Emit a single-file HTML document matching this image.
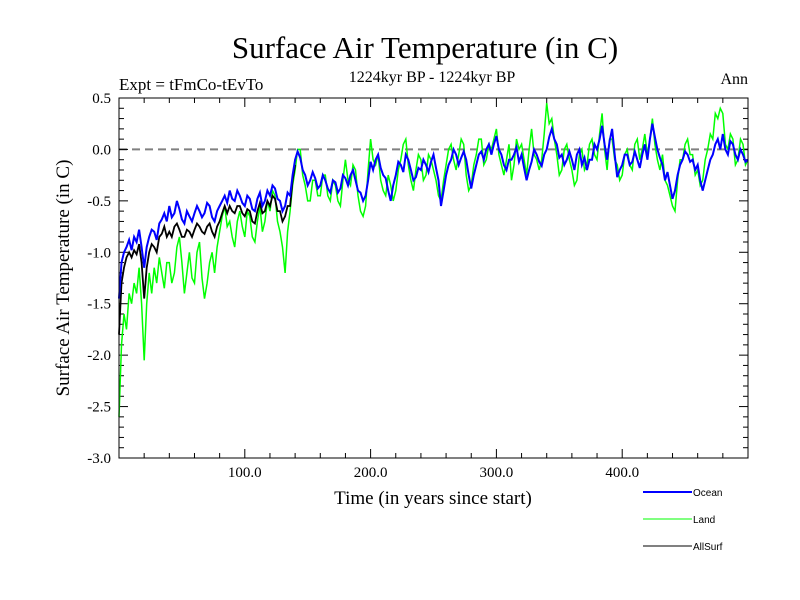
<!DOCTYPE html>
<html><head><meta charset="utf-8"><style>
html,body{margin:0;padding:0;background:#fff;}
svg{display:block;font-family:"Liberation Serif",serif;}
.lg{font-family:"Liberation Sans",sans-serif;font-size:10px;}
</style></head><body>
<svg id="chart" width="800" height="600" viewBox="0 0 800 600">
<text x="425" y="58" font-size="31" text-anchor="middle">Surface Air Temperature (in C)</text>
<text x="119" y="90" font-size="17">Expt = tFmCo-tEvTo</text>
<text x="432" y="82" font-size="16" text-anchor="middle">1224kyr BP - 1224kyr BP</text>
<text x="748" y="84" font-size="16" text-anchor="end">Ann</text>
<text x="433" y="504" font-size="19" text-anchor="middle">Time (in years since start)</text>
<text transform="translate(69,278) rotate(-90)" font-size="19" text-anchor="middle">Surface Air Temperature (in C)</text>
<g id="axes"></g>
<g id="series"></g>
<rect x="119" y="98" width="629" height="360" fill="none" stroke="#000" stroke-width="1"/>
<g>
<line x1="643" y1="492" x2="692" y2="492" stroke="#0000ff" stroke-width="2"/>
<text class="lg" x="693" y="496">Ocean</text>
<line x1="643" y1="519" x2="692" y2="519" stroke="#00ff00" stroke-width="1"/>
<text class="lg" x="693" y="523">Land</text>
<line x1="643" y1="546" x2="692" y2="546" stroke="#000" stroke-width="1"/>
<text class="lg" x="693" y="550">AllSurf</text>
</g>
</svg>
<script>
const years = [];
for (let i = 0; i <= 250; i++) years.push(i * 2);
const ocean = [-1.45,-1.1,-1.0,-0.95,-0.88,-0.98,-0.85,-0.9,-0.78,-0.95,-1.15,-0.95,-0.85,-0.78,-0.8,-0.88,-0.72,-0.68,-0.62,-0.7,
-0.55,-0.66,-0.62,-0.5,-0.58,-0.68,-0.72,-0.6,-0.65,-0.7,-0.62,-0.55,-0.6,-0.66,-0.62,-0.52,-0.55,-0.66,-0.7,-0.6,
-0.55,-0.5,-0.45,-0.52,-0.4,-0.48,-0.5,-0.4,-0.45,-0.52,-0.55,-0.45,-0.48,-0.58,-0.6,-0.48,-0.42,-0.55,-0.5,-0.4,
-0.45,-0.35,-0.38,-0.48,-0.5,-0.6,-0.55,-0.42,-0.45,-0.25,-0.1,-0.02,-0.08,-0.2,-0.25,-0.35,-0.3,-0.22,-0.28,-0.38,
-0.35,-0.25,-0.3,-0.38,-0.42,-0.3,-0.32,-0.42,-0.38,-0.25,-0.28,-0.35,-0.25,-0.2,-0.3,-0.4,-0.42,-0.5,-0.45,-0.3,
-0.12,-0.2,-0.1,-0.05,-0.18,-0.25,-0.28,-0.4,-0.5,-0.35,-0.25,-0.12,-0.15,-0.22,-0.05,-0.1,-0.2,-0.3,-0.27,-0.18,
-0.2,-0.1,-0.15,-0.22,-0.12,-0.05,-0.18,-0.3,-0.55,-0.4,-0.25,-0.15,-0.1,0.0,-0.05,-0.15,-0.08,-0.02,-0.1,-0.25,
-0.38,-0.25,-0.15,-0.05,-0.02,-0.1,0.0,0.05,-0.05,0.05,0.13,0.0,-0.05,-0.15,-0.2,-0.1,-0.1,-0.05,0.02,-0.12,
-0.05,-0.18,-0.3,-0.2,-0.12,0.0,-0.05,-0.12,-0.16,-0.05,0.0,0.12,0.2,0.1,0.05,-0.08,-0.05,-0.15,-0.1,-0.02,
-0.1,-0.2,-0.05,0.0,-0.15,-0.08,-0.2,-0.1,-0.1,0.05,0.0,0.1,0.23,0.05,-0.1,0.08,0.2,-0.05,-0.27,-0.2,
-0.15,-0.05,-0.05,-0.15,-0.12,-0.02,-0.1,-0.18,-0.05,0.05,-0.1,0.1,0.25,0.12,0.0,-0.08,-0.15,-0.3,-0.22,-0.35,
-0.48,-0.4,-0.25,-0.15,-0.1,-0.02,-0.05,-0.12,-0.1,-0.2,-0.15,-0.3,-0.4,-0.3,-0.2,-0.1,-0.05,0.05,0.1,0.0,
0.15,0.0,-0.05,0.08,0.05,-0.05,-0.1,0.0,-0.05,-0.12,-0.1];
const land = [-2.6,-1.9,-1.6,-1.75,-1.4,-1.5,-1.3,-1.4,-1.15,-1.5,-2.05,-1.5,-1.2,-1.4,-1.15,-1.3,-1.05,-1.2,-1.35,-1.1,
-1.1,-1.3,-1.2,-0.95,-0.85,-1.1,-1.4,-1.2,-1.0,-1.25,-1.3,-1.0,-0.9,-1.25,-1.45,-1.3,-1.1,-1.0,-1.2,-0.95,
-0.8,-0.65,-0.55,-0.75,-0.7,-0.85,-0.95,-0.7,-0.6,-0.75,-0.85,-0.6,-0.65,-0.85,-0.9,-0.7,-0.55,-0.8,-0.7,-0.5,
-0.6,-0.4,-0.45,-0.7,-0.8,-0.95,-1.2,-0.8,-0.6,-0.35,-0.2,0.0,0.0,-0.25,-0.35,-0.5,-0.5,-0.3,-0.3,-0.45,
-0.45,-0.25,-0.25,-0.45,-0.5,-0.3,-0.35,-0.5,-0.55,-0.3,-0.1,-0.3,-0.35,-0.15,-0.2,-0.45,-0.6,-0.65,-0.55,-0.2,
0.1,-0.1,-0.15,-0.05,-0.3,-0.4,-0.45,-0.25,-0.35,-0.5,-0.4,-0.2,-0.1,0.05,0.1,-0.15,-0.3,-0.4,-0.2,-0.05,
-0.1,-0.3,-0.25,-0.05,-0.1,-0.2,-0.3,-0.45,-0.5,-0.3,-0.15,0.0,0.05,-0.1,-0.2,-0.05,0.1,0.05,-0.25,-0.4,
-0.35,-0.15,-0.05,0.1,0.1,-0.15,-0.1,0.05,0.0,0.1,0.2,-0.05,-0.15,-0.25,-0.1,0.05,-0.3,-0.15,0.1,0.0,
0.05,-0.1,-0.25,0.0,0.2,-0.05,-0.1,-0.2,-0.1,0.15,0.45,0.25,0.3,0.1,-0.05,-0.25,-0.2,0.0,0.05,-0.1,
-0.2,-0.35,-0.3,-0.05,0.0,-0.2,-0.15,0.05,0.1,-0.05,-0.1,0.15,0.35,0.0,-0.2,0.1,0.1,-0.1,-0.15,-0.3,
-0.25,-0.05,0.0,-0.15,-0.2,0.05,0.1,-0.1,0.0,0.15,-0.05,0.1,0.3,0.05,-0.1,-0.2,-0.05,-0.3,-0.35,-0.45,
-0.55,-0.6,-0.3,-0.1,-0.1,0.05,0.1,-0.05,-0.05,-0.25,-0.2,-0.35,-0.3,-0.1,0.0,0.15,0.1,0.35,0.3,0.4,
0.35,0.05,0.0,0.15,0.1,-0.15,-0.1,0.1,0.05,-0.15,-0.1];
const allSurf = [-1.8,-1.3,-1.15,-1.05,-1.0,-1.05,-0.98,-1.02,-0.92,-1.1,-1.45,-1.15,-1.0,-0.92,-0.95,-1.0,-0.85,-0.82,-0.75,-0.85,
-0.8,-0.85,-0.75,-0.72,-0.78,-0.85,-0.85,-0.78,-0.8,-0.85,-0.78,-0.72,-0.75,-0.8,-0.82,-0.75,-0.72,-0.8,-0.85,-0.75,
-0.7,-0.62,-0.55,-0.62,-0.55,-0.6,-0.62,-0.55,-0.55,-0.62,-0.65,-0.58,-0.6,-0.7,-0.72,-0.6,-0.52,-0.62,-0.6,-0.5,
-0.55,-0.45,-0.48,-0.6,-0.6,-0.7,-0.65,-0.55,-0.55,-0.3,-0.15];
const xTickLabels = ["100.0","200.0","300.0","400.0"];
const xTickValues = [100,200,300,400];
const yTickValues = [0.5,0.0,-0.5,-1.0,-1.5,-2.0,-2.5,-3.0];
const yTickLabels = ["0.5","0.0","-0.5","-1.0","-1.5","-2.0","-2.5","-3.0"];

const X0=119, X1=748, Y0=98, Y1=458;
const sx = v => X0 + (v/500)*(X1-X0);
const sy = v => Y0 + (0.5 - v)/3.5*(Y1-Y0);
const NS="http://www.w3.org/2000/svg";
const axes=document.getElementById('axes'), series=document.getElementById('series');
function mk(tag, attrs, parent){const e=document.createElementNS(NS,tag);for(const k in attrs)e.setAttribute(k,attrs[k]);parent.appendChild(e);return e;}

const zl = mk('line',{x1:X0,x2:X1,y1:sy(0),y2:sy(0),stroke:'#808080','stroke-width':2,'stroke-dasharray':'8,5'},axes);



for (let v=20; v<500; v+=20){
  const major = v%100===0, len = major?9:5, x=sx(v);
  const t1=mk('line',{x1:x,x2:x,y1:Y1,y2:Y1-len,stroke:'#000'},axes);
  
  
  const t2=mk('line',{x1:x,x2:x,y1:Y0,y2:Y0+len,stroke:'#000'},axes);
  
  
}
xTickValues.forEach((v,i)=>{
  const t=mk('text',{x:sx(v),y:Y1+19,'font-size':15,'text-anchor':'middle'},axes);
  t.textContent=xTickLabels[i];
  
  
});
for (let k=0;k<=35;k++){
  const v=0.5-k*0.1, major=k%5===0, len=major?9:5, y=sy(v);
  const t1=mk('line',{x1:X0,x2:X0+len,y1:y,y2:y,stroke:'#000'},axes);
  
  
  const t2=mk('line',{x1:X1,x2:X1-len,y1:y,y2:y,stroke:'#000'},axes);
  
  
}
yTickValues.forEach((v,i)=>{
  const t=mk('text',{x:X0-8,y:sy(v)+5,'font-size':15,'text-anchor':'end'},axes);
  t.textContent=yTickLabels[i];
  
  
});

function pts(vals){return vals.map((v,i)=>sx(years[i]).toFixed(1)+','+sy(v).toFixed(1)).join(' ');}
const pl=mk('polyline',{points:pts(land),fill:'none',stroke:'#00ff00','stroke-width':1.5},series);


const pa=mk('polyline',{points:pts(allSurf),fill:'none',stroke:'#000','stroke-width':1.8},series);


const po=mk('polyline',{points:pts(ocean),fill:'none',stroke:'#0000ff','stroke-width':2},series);


</script>
</body></html>
